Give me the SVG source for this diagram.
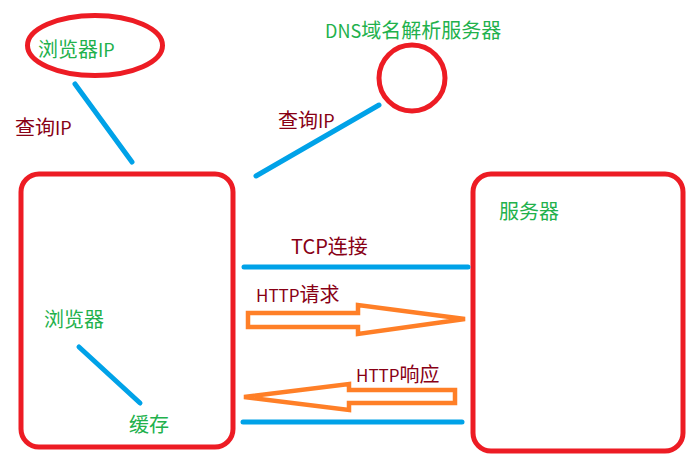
<svg xmlns="http://www.w3.org/2000/svg" width="700" height="466" viewBox="0 0 700 466">
<style>
.shape{fill:none;stroke:#ed1c24;stroke-width:5}
.link{fill:none;stroke:#00a2e8;stroke-width:5;stroke-linecap:round}
.arrow{fill:none;stroke:#ff7f27;stroke-width:4.5;stroke-linejoin:miter}
text{font-family:"Noto Sans CJK SC","Microsoft YaHei",sans-serif;font-size:20px}
.lat{font-size:18px}
.lat17{font-size:17px}
.node-label{fill:#22b14c}
.edge-label{fill:#880015}
</style>
<rect width="700" height="466" fill="#ffffff"/>
<g id="browser-ip">
<ellipse class="shape" cx="95" cy="45.5" rx="67.5" ry="30"/>
<text class="node-label" x="38" y="57">浏览器<tspan class="lat">IP</tspan></text>
</g>
<g id="dns-server">
<circle class="shape" cx="412" cy="78" r="33" stroke-width="4"/>
<text class="node-label" x="325" y="38"><tspan class="lat">DNS</tspan>域名解析服务器</text>
</g>
<g id="browser">
<rect class="shape" x="21" y="174" width="212" height="273" rx="18"/>
</g>
<g id="browser-label">
<text class="node-label" x="44" y="327">浏览器</text>
</g>
<g id="cache">
<text class="node-label" x="129" y="432">缓存</text>
</g>
<g id="server">
<rect class="shape" x="473" y="174" width="210" height="277" rx="18"/>
<text class="node-label" x="499" y="219">服务器</text>
</g>
<g id="connectors">
<line class="link" x1="75" y1="84" x2="132" y2="162"/>
<line class="link" x1="256" y1="176" x2="379" y2="105"/>
<line class="link" x1="79" y1="347" x2="140" y2="403"/>
<line class="link" x1="244" y1="267" x2="468" y2="267"/>
<line class="link" x1="243" y1="422" x2="462" y2="422"/>
<polygon class="arrow" points="248,313 358,313 358,305 465,319 358,334 358,327 248,327"/>
<polygon class="arrow" points="455,390 349,390 349,384 244,397 349,410 349,403 455,403"/>
<text class="edge-label" x="15" y="135">查询<tspan class="lat">IP</tspan></text>
<text class="edge-label" x="278" y="128">查询<tspan class="lat">IP</tspan></text>
<text class="edge-label" x="291" y="254">TCP连接</text>
<text class="edge-label" x="256" y="302"><tspan class="lat17">HTTP</tspan>请求</text>
<text class="edge-label" x="356" y="382"><tspan class="lat17">HTTP</tspan>响应</text>
</g>
</svg>
